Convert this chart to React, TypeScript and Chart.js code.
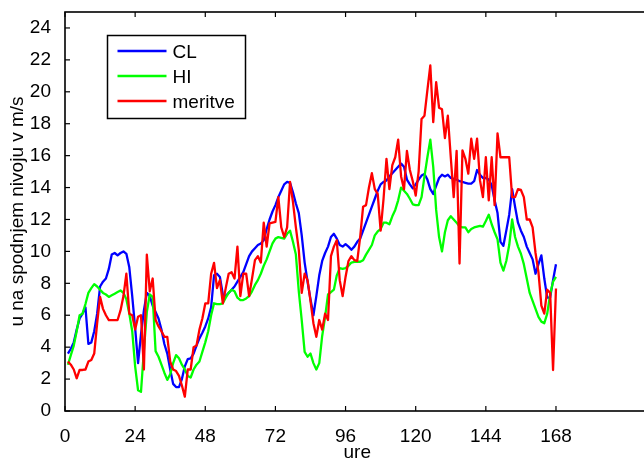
import { useEffect, useRef } from "react";
import { Chart, registerables } from "chart.js";

Chart.register(...registerables);

// ---- data ----
const START_HOUR = 1;
const xTickValues = [0, 24, 48, 72, 96, 120, 144, 168];
const yTickValues = [0, 2, 4, 6, 8, 10, 12, 14, 16, 18, 20, 22, 24];
const xTitle = "ure";
const yTitle = "u na spodnjem nivoju v m/s";
const seriesLabels = ["CL", "HI", "meritve"];
const seriesColors = ["#0000ff", "#00ff00", "#ff0000"];

const clValues = [
  3.6, 3.9, 4.3, 5.1, 5.8, 6.1, 6.5, 4.2, 4.3, 5.0,
  6.1, 7.8, 8.1, 8.3, 8.9, 9.8, 9.9, 9.75, 9.9, 10.0,
  9.85, 9.0, 7.2, 5.2, 3.0, 4.8, 6.3, 7.4, 7.2, 6.6,
  6.2, 5.8, 5.1, 4.2, 3.6, 2.6, 1.7, 1.5, 1.5, 2.0,
  2.8, 3.25, 3.3, 3.6, 4.1, 4.55, 4.9, 5.3, 5.8, 6.5,
  8.5, 8.6, 8.4, 7.3, 7.2, 7.4, 7.6, 7.8, 8.1, 8.4,
  8.7, 9.2, 9.7, 10.0, 10.2, 10.4, 10.5, 10.7, 11.4, 12.0,
  12.5, 12.9, 13.4, 13.8, 14.2, 14.35, 14.3, 13.7, 13.0, 12.4,
  11.0, 9.3, 8.1, 7.0, 6.0, 7.2, 8.5, 9.4, 9.9, 10.3,
  10.9, 11.1, 10.8, 10.4, 10.3, 10.45, 10.3, 10.1, 10.3, 10.6,
  10.8, 11.3, 11.8, 12.3, 12.8, 13.3, 13.8, 14.2, 14.35, 14.45,
  14.7, 14.9, 15.1, 15.3, 15.5, 15.3, 14.5, 14.2, 13.95, 14.2,
  14.5, 14.75, 14.85, 14.5, 13.9, 13.6, 14.1, 14.6, 14.8, 14.7,
  14.8, 14.6, 14.55, 14.5, 14.4, 14.35, 14.3, 14.25, 14.25, 14.4,
  15.1, 14.8, 14.6, 14.6, 14.5, 14.15, 13.2, 12.4, 10.6, 10.35,
  11.3, 12.3, 13.9, 12.8, 11.8, 11.3, 10.9, 10.3, 9.9, 9.5,
  8.6, 9.2, 9.75, 8.3, 7.1, 7.1, 8.2, 9.2,
];

const hiValues = [
  2.9, 3.5, 4.1, 5.0, 6.0, 6.1, 6.7, 7.4, 7.7, 7.95,
  7.8, 7.6, 7.4, 7.3, 7.15, 7.25, 7.35, 7.45, 7.55, 7.4,
  7.0, 6.1, 5.0, 2.8, 1.3, 1.2, 3.8, 6.2, 7.3, 7.15,
  3.75, 3.4, 2.9, 2.4, 1.95, 2.3, 3.0, 3.5, 3.3, 2.9,
  2.6, 2.2, 2.1, 2.6, 2.9, 3.1, 3.7, 4.3, 5.0, 6.0,
  6.75, 6.7, 6.7, 6.75, 7.1, 7.4, 7.6, 7.5, 7.1, 6.95,
  6.95, 7.05, 7.2, 7.5, 7.9, 8.2, 8.6, 9.1, 9.5, 10.0,
  10.5, 10.8, 10.9, 10.85, 10.8, 11.1, 11.3, 10.6, 9.8, 7.5,
  5.7, 3.7, 3.4, 3.6, 3.0, 2.6, 3.0, 4.7, 5.9, 7.3,
  7.45, 7.6, 8.5, 8.95, 8.9, 8.95, 9.1, 9.3, 9.35, 9.35,
  9.35, 9.45, 9.8, 10.1, 10.4, 11.0, 11.25, 11.4, 11.8, 11.8,
  11.7, 12.2, 12.6, 13.2, 14.0, 13.8, 13.6, 13.3, 12.95, 12.9,
  12.9, 13.4, 14.7, 15.9, 17.0, 15.3, 12.6, 10.9, 10.0, 11.2,
  11.95, 12.2, 12.0, 11.8, 11.55, 11.5, 11.5, 11.2, 11.4, 11.5,
  11.55, 11.6, 11.55, 11.9, 12.3, 11.7, 11.2, 10.75, 9.3, 8.8,
  9.4, 10.4, 12.0, 10.9, 10.3, 9.85, 9.2, 8.3, 7.4, 6.9,
  6.4, 5.9, 5.6, 5.5, 6.1, 7.3, 8.1, 8.4,
];

const meritveValues = [
  3.1, 2.9, 2.6, 2.05, 2.57, 2.57, 2.6, 3.1, 3.2, 3.6,
  5.5, 7.15, 6.4, 6.0, 5.7, 5.7, 5.7, 5.7, 6.3, 7.2,
  8.6, 6.1, 6.0, 5.1, 5.9, 6.0, 2.6, 9.8, 7.5, 8.3,
  5.7, 5.3, 5.0, 4.65, 4.65, 3.1, 2.6, 2.5, 2.2, 1.6,
  0.9, 2.6, 2.6, 4.0, 4.1, 5.1, 5.8, 6.74, 6.74, 8.6,
  9.28, 7.7, 8.2, 6.74, 7.7, 8.6, 8.7, 8.3, 10.3, 7.2,
  8.6, 8.6, 7.2, 8.3, 9.45, 9.7, 9.3, 11.8, 10.3, 11.75,
  11.8, 11.85, 13.4, 11.5, 10.9, 11.5, 14.35, 13.1, 11.5, 10.1,
  7.4, 8.6, 8.2, 6.9, 5.5, 4.65, 5.7, 5.1, 6.1, 5.7,
  9.7, 10.3, 10.7, 8.2, 7.2, 8.4, 9.4, 9.7, 9.45, 9.4,
  10.9, 12.8, 12.9, 14.0, 14.9, 13.9, 13.6, 11.3, 13.3, 15.8,
  13.9, 15.4, 15.9, 17.0, 14.7, 13.9, 16.3, 15.1, 14.4, 13.5,
  15.0, 18.3, 18.5, 20.1, 21.65, 18.1, 20.6, 19.0, 18.9, 17.1,
  18.5, 15.9, 13.4, 16.3, 9.24, 16.33, 15.8, 14.87, 17.06, 15.8,
  17.06, 14.45, 13.4, 15.9, 13.2, 15.9, 12.9, 17.4, 15.9, 15.9,
  15.9, 15.9, 13.4, 13.4, 13.9, 13.85, 13.4, 12.0, 12.0, 11.5,
  9.9, 8.7, 6.6, 6.1, 7.6, 7.4, 2.57, 7.68,
];

const seriesValues = [clValues, hiValues, meritveValues];

const FONT = '"Liberation Sans", Arial, Helvetica, sans-serif';
const CANVAS_W = 680;
const CANVAS_H = 470;

const framePlugin = {
  id: "matlabFrame",
  afterDraw(chart: any) {
    const { ctx, chartArea } = chart;
    const { left, top, right, bottom } = chartArea;
    const xs = chart.scales.x;
    const ys = chart.scales.y;
    ctx.save();
    ctx.strokeStyle = "#000";
    ctx.lineWidth = 1.6;
    ctx.strokeRect(left, top, right - left, bottom - top);
    ctx.lineWidth = 1.2;
    const TL = 5;
    const seg = (x1: number, y1: number, x2: number, y2: number) => {
      ctx.beginPath();
      ctx.moveTo(x1, y1);
      ctx.lineTo(x2, y2);
      ctx.stroke();
    };
    xs.ticks.forEach((t: any) => {
      const px = xs.getPixelForValue(t.value);
      seg(px, bottom, px, bottom - TL);
      seg(px, top, px, top + TL);
    });
    ys.ticks.forEach((t: any) => {
      const py = ys.getPixelForValue(t.value);
      seg(left, py, left + TL, py);
      seg(right, py, right - TL, py);
    });

    // legend (MATLAB style, inside top-left)
    const lx = left + 42.5;
    const ly = top + 23.5;
    const lw = 138;
    const lh = 83;
    ctx.fillStyle = "#fff";
    ctx.fillRect(lx, ly, lw, lh);
    ctx.lineWidth = 1.5;
    ctx.strokeStyle = "#000";
    ctx.strokeRect(lx, ly, lw, lh);
    ctx.font = `19px ${FONT}`;
    ctx.textBaseline = "middle";
    ctx.textAlign = "left";
    chart.data.datasets.forEach((ds: any, i: number) => {
      const rowY = ly + 15.5 + i * 25;
      ctx.strokeStyle = ds.borderColor;
      ctx.lineWidth = 2.3;
      seg(lx + 10, rowY, lx + 59, rowY);
      ctx.fillStyle = "#000";
      ctx.fillText(ds.label, lx + 65, rowY + 2);
    });
    ctx.restore();
  },
};

const noEdgePadding = (s: any) => {
  s.paddingTop = 0;
  s.paddingBottom = 0;
  s.paddingLeft = 0;
  s.paddingRight = 0;
};

export default function App() {
  const ref = useRef<HTMLCanvasElement | null>(null);

  useEffect(() => {
    if (!ref.current) return;
    const datasets = seriesLabels.map((label, s) => ({
      label,
      data: seriesValues[s].map((v, i) => ({ x: START_HOUR + i, y: v })),
      borderColor: seriesColors[s],
      backgroundColor: seriesColors[s],
      borderWidth: 2.3,
      pointRadius: 0,
      tension: 0,
      fill: false,
      borderJoinStyle: "round" as const,
      order: seriesLabels.length - s,
    }));

    const chart = new Chart(ref.current, {
      type: "line",
      data: { datasets },
      options: {
        animation: false,
        responsive: false,
        devicePixelRatio: 1,
        events: [],
        layout: { padding: { left: 0, top: 12, right: CANVAS_W - 649.5, bottom: 0 } },
        plugins: {
          legend: { display: false },
          tooltip: { enabled: false },
        },
        scales: {
          x: {
            type: "linear",
            min: 0,
            max: 200,
            afterBuildTicks: (s: any) => {
              s.ticks = xTickValues.map((v) => ({ value: v }));
            },
            afterFit: (s: any) => {
              s.height = CANVAS_H - 411;
              noEdgePadding(s);
            },
            grid: { display: false },
            border: { display: false },
            ticks: {
              color: "#000",
              font: { family: FONT, size: 19 },
              padding: 6,
              maxRotation: 0,
              autoSkip: false,
            },
            title: {
              display: true,
              text: xTitle,
              color: "#000",
              font: { family: FONT, size: 19 },
              padding: { top: 0, bottom: 5.8 },
            },
          },
          y: {
            type: "linear",
            min: 0,
            max: 25,
            afterBuildTicks: (s: any) => {
              s.ticks = yTickValues.map((v) => ({ value: v }));
            },
            afterFit: (s: any) => {
              s.width = 65;
              noEdgePadding(s);
            },
            grid: { display: false },
            border: { display: false },
            ticks: {
              color: "#000",
              font: { family: FONT, size: 19 },
              padding: 6,
              autoSkip: false,
            },
            title: {
              display: true,
              text: yTitle,
              color: "#000",
              font: { family: FONT, size: 19 },
              padding: { top: 6.6, bottom: 0 },
            },
          },
        },
      },
      plugins: [framePlugin],
    });
    return () => chart.destroy();
  }, []);

  return (
    <div
      style={{
        position: "fixed",
        left: 0,
        top: 0,
        width: 644,
        height: 459,
        overflow: "hidden",
        background: "#fff",
      }}
    >
      <canvas ref={ref} width={CANVAS_W} height={CANVAS_H} style={{ display: "block" }} />
    </div>
  );
}
